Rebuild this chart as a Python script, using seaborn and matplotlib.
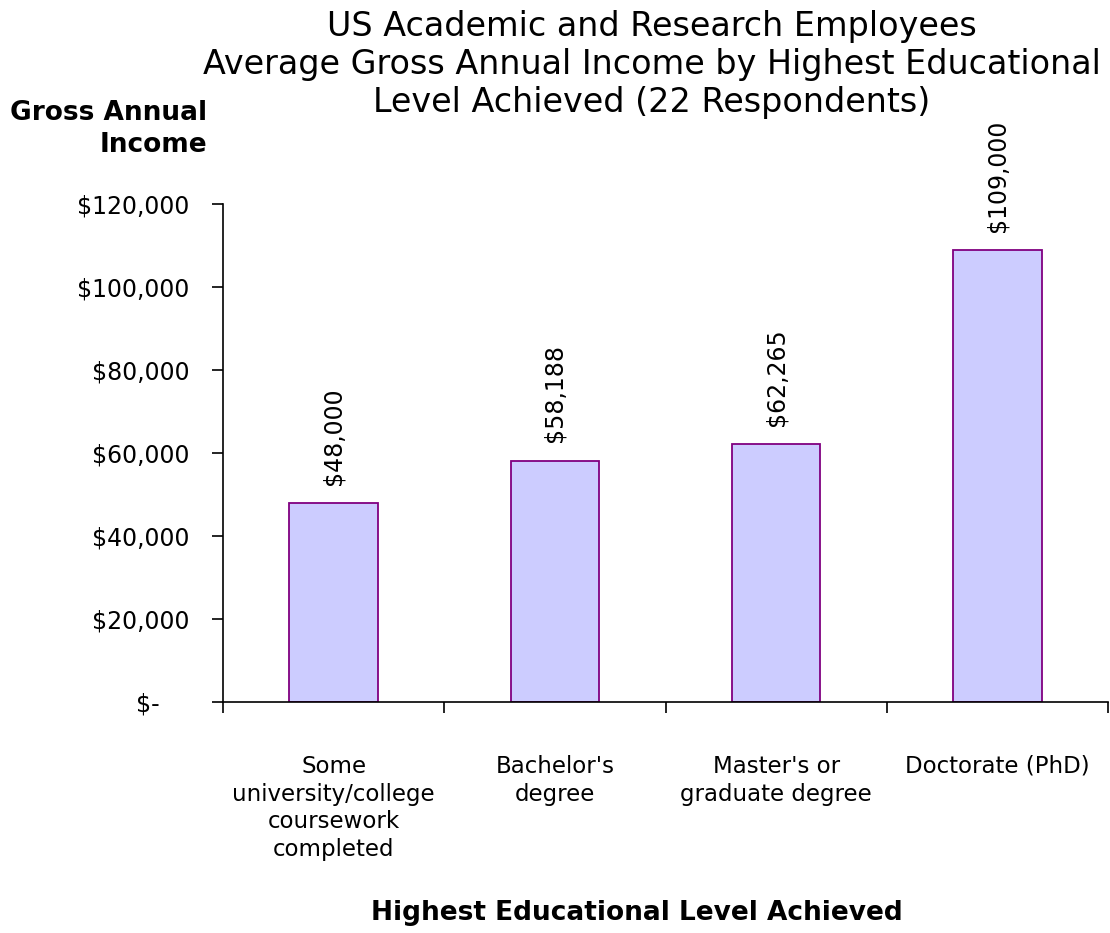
import matplotlib
matplotlib.use("Agg")
import matplotlib.pyplot as plt
from matplotlib.ticker import FixedLocator, FuncFormatter
import seaborn as sns
import pandas as pd

categories = [
    "Some\nuniversity/college\ncoursework\ncompleted",
    "Bachelor's\ndegree",
    "Master's or\ngraduate degree",
    "Doctorate (PhD)",
]
incomes = [48000, 58188, 62265, 109000]
y_ticks = [0, 20000, 40000, 60000, 80000, 100000, 120000]

title = ("US Academic and Research Employees\n"
         "Average Gross Annual Income by Highest Educational\n"
         "Level Achieved (22 Respondents)")

sns.set_theme(style="ticks")
plt.rcParams["font.family"] = ["DejaVu Sans"]

df = pd.DataFrame({"level": categories, "income": incomes})

fig = plt.figure(figsize=(11.1, 9.33), dpi=100)
ax = fig.add_axes([223 / 1110, 1 - 702 / 933, (1108 - 223) / 1110, (702 - 204) / 933])

sns.barplot(data=df, x="level", y="income", ax=ax, color="#CCCCFF",
            saturation=1, width=0.4, edgecolor="#800080", linewidth=1.3)

ax.set_ylim(0, 120000)
ax.set_xlim(-0.5, len(categories) - 0.5)

# accounting-style currency labels: zero shown as a dash
def money(v, pos=None):
    if v == 0:
        return "$-    "
    return f"${v:,.0f}"

ax.yaxis.set_major_locator(FixedLocator(y_ticks))
ax.yaxis.set_major_formatter(FuncFormatter(money))
ax.tick_params(axis="y", length=8, width=1.2, pad=16, labelsize=17,
               colors="black", direction="out")

# category labels at bar centres, tick marks on category boundaries
ax.set_xticks(range(len(categories)))
ax.set_xticklabels(categories, fontsize=16.5, linespacing=1.27)
ax.tick_params(axis="x", which="major", length=0, pad=38, colors="black")
ax.set_xticks([i - 0.5 for i in range(len(categories) + 1)], minor=True)
ax.tick_params(axis="x", which="minor", length=8, width=1.2, colors="black",
               direction="out")

for side in ("top", "right"):
    ax.spines[side].set_visible(False)
for side in ("left", "bottom"):
    ax.spines[side].set_color("black")
    ax.spines[side].set_linewidth(1.2)

ax.set_xlabel("")
ax.set_ylabel("")

for i, v in enumerate(incomes):
    ax.annotate(f"${v:,.0f}", xy=(i, v), xytext=(0, 13), textcoords="offset points",
                rotation=90, ha="center", va="bottom", fontsize=17, color="black")

fig.text(652 / 1110, 1 - 10 / 933, title, ha="center", va="top", fontsize=24,
         linespacing=1.19, color="black")
fig.text(207 / 1110, 1 - 100 / 933, "Gross Annual\nIncome", ha="right", va="top",
         fontsize=19, fontweight="bold", multialignment="right", linespacing=1.3,
         color="black")
fig.text(637 / 1110, 1 - 913 / 933, "Highest Educational Level Achieved",
         ha="center", va="center", fontsize=19, fontweight="bold", color="black")

fig.savefig("out.png", dpi=100, facecolor="white")
